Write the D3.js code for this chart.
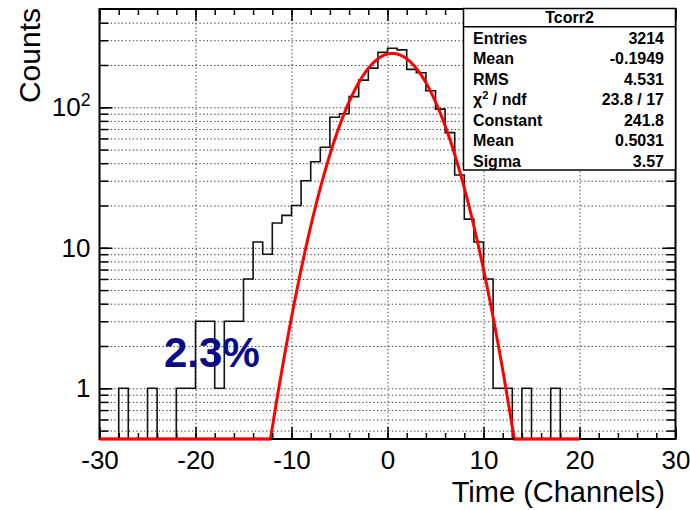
<!DOCTYPE html>
<html><head><meta charset="utf-8">
<script src="https://cdn.jsdelivr.net/npm/d3@7"></script>
<style>body{margin:0;background:#fff}svg{display:block;font-family:"Liberation Sans",Arial,Helvetica,sans-serif}</style>
</head><body><svg id="c" width="690" height="510"></svg>
<script>
// ---- data ----
const binLowEdges = d3.range(-30, 30);   // 1-channel bins
const counts = [0,0,1,0,0,1,0,0,1,1, 3,3,1,3,3,6,11,9,15,17,
                20,30,41,52,85,90,119,156,190,246, 263,256,186,176,131,97,66,33,16,11,
                6,1,1,0,1,0,0,1,0,0, 0,0,0,0,0,0,0,0,0,0];
const xTickValues = [-30,-20,-10,0,10,20,30];
const yTickExponents = [0,1,2];
const statsTitle = "Tcorr2";
const statsLabels = ["Entries","Mean","RMS","χ2 / ndf","Constant","Mean","Sigma"];
const statsValues = ["3214","-0.1949","4.531","23.8 / 17","241.8","0.5031","3.57"];
const fitConstant = 241.8, fitMean = 0.5031, fitSigma = 3.57;
const fitRange = [-30, 20];
const annotation = "2.3%";

// ---- layout ----
const svg = d3.select("#c");
const L = 99.5, R = 675.5, T = 9, B = 439;
const x = d3.scaleLinear().domain([-30, 30]).range([L, R]);
const y = d3.scaleLog().domain([0.4356, 500.6]).range([B, T]);
const yMin = y.domain()[0];
const yMinor = [];
[0.1,1,10,100].forEach(d => { for (let k=1;k<10;k++){ const v=d*k; if (v>yMin && v<500) yMinor.push(v);} });
const yMajor = yTickExponents.map(e => Math.pow(10, e));
const xMinor = d3.range(-30, 31, 2);

const grid = svg.append("g");
grid.append("g").attr("transform", `translate(${L},0)`)
  .call(d3.axisLeft(y).tickValues(yMinor).tickSize(-(R-L)).tickFormat(""))
  .call(g => { g.select(".domain").remove(); g.selectAll("line").attr("stroke","#333").attr("stroke-dasharray","1.3,2.4"); });
grid.append("g").attr("transform", `translate(0,${B})`)
  .call(d3.axisBottom(x).tickValues(xTickValues.slice(1,-1)).tickSize(-(B-T)).tickFormat(""))
  .call(g => { g.select(".domain").remove(); g.selectAll("line").attr("stroke","#333").attr("stroke-dasharray","1.3,2.4"); });

// histogram
const histPts = binLowEdges.map((lo,i) => [lo, counts[i]]);
histPts.push([30, counts[counts.length-1]]);
const line = d3.line().x(d => x(d[0])).y(d => y(Math.max(d[1], yMin)));
svg.append("path").datum(histPts).attr("d", line.curve(d3.curveStepAfter))
  .attr("fill","none").attr("stroke","#111").attr("stroke-width",1.6);

// fit
const fitX = d3.range(fitRange[0], fitRange[1] + 1e-9, 0.1);
const fitPts = fitX.map(v => [v, fitConstant*Math.exp(-0.5*Math.pow((v-fitMean)/fitSigma,2))]);
svg.append("path").datum(fitPts).attr("d", d3.line().x(d => x(d[0])).y(d => y(Math.max(d[1], yMin)))(fitPts))
  .attr("fill","none").attr("stroke","#ff0000").attr("stroke-width",3);

// axes ticks
function styleAxis(g){ g.select(".domain").remove(); g.selectAll("line").attr("stroke","#000").attr("stroke-width",1.5); g.selectAll("text").attr("fill","#000"); }
// bottom
svg.append("g").attr("transform",`translate(0,${B})`)
  .call(d3.axisBottom(x).tickValues(xMinor).tickSize(-6).tickFormat("")).call(styleAxis);
svg.append("g").attr("transform",`translate(0,${B})`)
  .call(d3.axisBottom(x).tickValues(xTickValues).tickSize(-12).tickPadding(12).tickFormat(d3.format("d")))
  .call(styleAxis).call(g => g.selectAll("text").attr("font-size",26).attr("font-family","Liberation Sans, Arial").text(d => d < 0 ? "-" + Math.abs(d) : d));
// top
svg.append("g").attr("transform",`translate(0,${T})`)
  .call(d3.axisTop(x).tickValues(xMinor).tickSize(-6).tickFormat("")).call(styleAxis);
svg.append("g").attr("transform",`translate(0,${T})`)
  .call(d3.axisTop(x).tickValues(xTickValues).tickSize(-12).tickFormat("")).call(styleAxis);
// left
svg.append("g").attr("transform",`translate(${L},0)`)
  .call(d3.axisLeft(y).tickValues(yMinor).tickSize(-9).tickFormat("")).call(styleAxis);
svg.append("g").attr("transform",`translate(${L},0)`)
  .call(d3.axisLeft(y).tickValues(yMajor).tickSize(-13).tickPadding(9).tickFormat(d => d === 1 ? "1" : "10"))
  .call(styleAxis).call(g => {
    g.selectAll("text").attr("font-size",26).attr("font-family","Liberation Sans, Arial");
    g.selectAll("text").filter(d => d === 100).append("tspan").attr("dy","-0.55em").attr("font-size","0.68em").text("2");
  });
// right
svg.append("g").attr("transform",`translate(${R},0)`)
  .call(d3.axisRight(y).tickValues(yMinor).tickSize(-9).tickFormat("")).call(styleAxis);
svg.append("g").attr("transform",`translate(${R},0)`)
  .call(d3.axisRight(y).tickValues(yMajor).tickSize(-13).tickFormat("")).call(styleAxis);

// frame
svg.append("rect").attr("x",L).attr("y",T).attr("width",R-L).attr("height",B-T)
  .attr("fill","none").attr("stroke","#000").attr("stroke-width",2);
// fit bottom segments drawn over frame
svg.append("path").datum(fitPts.filter(d => d[1] <= yMin)).attr("d", d => {
  const left = d.filter(p => p[0] < 0), right = d.filter(p => p[0] > 0);
  let s = "";
  if (left.length) s += `M${x(left[0][0])},${B}L${x(left[left.length-1][0])},${B}`;
  if (right.length) s += `M${x(right[0][0])},${B}L${x(right[right.length-1][0])},${B}`;
  return s;
}).attr("stroke","#ff0000").attr("stroke-width",2.5).attr("fill","none");

// stats box (drawn over ticks)
const sb = svg.append("g");
sb.append("rect").attr("x",463.5).attr("y",8.5).attr("width",212).attr("height",161.5)
  .attr("fill","#fff").attr("stroke","#000").attr("stroke-width",1.5);
sb.append("line").attr("x1",463.5).attr("x2",675.5).attr("y1",26.7).attr("y2",26.7).attr("stroke","#000").attr("stroke-width",1.5);
sb.append("text").attr("x",569.5).attr("y",23.2).attr("text-anchor","middle")
  .attr("font-size",16).attr("font-weight","bold").text(statsTitle);
statsLabels.forEach((lab,i) => {
  const by = 43.5 + i*20.5;
  const t = sb.append("text").attr("x",473).attr("y",by).attr("font-size",16).attr("font-weight","bold");
  if (lab.startsWith("χ2")) {
    t.append("tspan").text("χ");
    t.append("tspan").attr("dy",-6).attr("font-size",11).text("2");
    t.append("tspan").attr("dy",6).text(lab.slice(2));
  } else t.text(lab);
  sb.append("text").attr("x",664).attr("y",by).attr("text-anchor","end")
    .attr("font-size",16).attr("font-weight","bold").text(statsValues[i]);
});

// titles
svg.append("text").attr("x",665).attr("y",502).attr("text-anchor","end").attr("font-size",29).text("Time (Channels)");
svg.append("text").attr("transform","translate(40,8) rotate(-90)").attr("text-anchor","end").attr("font-size",30).text("Counts");
svg.append("text").attr("x",164).attr("y",367).attr("font-size",42).attr("font-weight","bold").attr("fill","#0b0b8a").text(annotation);
</script></body></html>
